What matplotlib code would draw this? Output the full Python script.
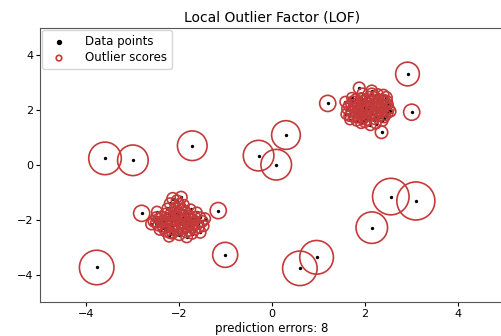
"""Local Outlier Factor scatter: data points with circles sized by outlier score."""
import matplotlib
matplotlib.use("Agg")
import matplotlib.pyplot as plt  # noqa: E402
import numpy as np  # noqa: E402

# isolated points
out_x = [2.92, 1.20, 3.01, 2.36, 0.30, -1.72, -3.60, -3.00, -0.29, 0.09,
         2.56, 3.10, 2.15, -2.81, -1.16, -1.01, -3.78, 0.96, 0.60, 2.46]
out_y = [3.31, 2.24, 1.92, 1.19, 1.09, 0.70, 0.24, 0.17, 0.34, 0.01,
         -1.15, -1.31, -2.28, -1.76, -1.66, -3.27, -3.73, -3.36, -3.76, 2.45]
out_lof = [1.94, 1.41, 1.41, 1.22, 2.40, 2.50, 2.82, 2.60, 2.60, 2.60,
           3.30, 3.50, 2.70, 1.41, 1.41, 2.05, 3.05, 2.95, 3.05, 1.20]

# upper-right cluster
c1_x = [2.05, 1.85, 2.25, 1.95, 2.15, 1.70, 2.40, 2.00, 1.80, 2.30,
        1.65, 2.10, 2.45, 1.90, 2.20, 1.75, 2.35, 2.05, 1.60, 2.50,
        1.95, 2.15, 1.88, 2.28, 2.42, 1.72, 2.00, 2.30, 1.82, 2.12,
        2.55, 1.58, 2.38, 1.68, 2.08, 1.98, 2.22, 1.90, 2.18, 1.78,
        2.48, 2.02, 2.26, 1.84, 2.12, 1.95, 2.33, 1.62, 2.05, 2.52,
        1.74, 2.40, 2.15, 1.92, 2.24, 1.88, 2.02, 2.18, 2.28, 1.92,
        1.70, 2.45, 2.35, 1.85, 2.08, 1.98, 2.22, 1.78, 2.12, 2.38,
        1.66, 2.50, 2.05, 1.93, 2.30, 1.80, 2.20, 1.96, 2.42, 2.10]
c1_y = [2.10, 2.00, 2.15, 2.35, 1.85, 1.95, 2.05, 1.70, 2.25, 2.40,
        2.15, 2.50, 1.80, 1.80, 1.65, 1.75, 2.25, 2.30, 1.85, 2.20,
        2.60, 2.70, 2.80, 2.58, 2.38, 2.45, 1.55, 1.75, 1.60, 1.45,
        1.95, 2.30, 1.60, 1.65, 1.95, 2.12, 2.02, 2.18, 2.28, 2.08,
        2.32, 2.42, 1.92, 1.90, 1.78, 1.98, 2.12, 2.05, 1.62, 2.05,
        2.32, 2.55, 2.60, 1.52, 1.50, 2.05, 1.85, 2.15, 2.30, 2.45,
        2.20, 2.15, 1.90, 1.70, 2.20, 2.00, 1.80, 1.88, 2.38, 2.38,
        1.78, 1.90, 1.75, 2.27, 2.05, 2.40, 2.48, 1.65, 1.72, 2.05]
c1_lof = [1.07, 1.08, 1.07, 1.10, 1.08, 1.11, 1.10, 1.09, 1.09, 1.12,
          1.13, 1.11, 1.12, 1.08, 1.10, 1.11, 1.10, 1.07, 1.14, 1.13,
          1.15, 1.17, 1.19, 1.14, 1.12, 1.13, 1.13, 1.10, 1.12, 1.15,
          1.16, 1.15, 1.14, 1.13, 1.05, 1.04, 1.06, 1.05, 1.08, 1.09,
          1.14, 1.10, 1.07, 1.08, 1.09, 0.95, 1.09, 1.15, 1.11, 1.14,
          1.13, 1.16, 1.15, 1.14, 1.13, 1.06, 1.07, 1.08, 1.10, 1.11,
          1.12, 1.12, 1.09, 1.10, 1.07, 1.05, 1.08, 1.09, 1.10, 1.12,
          1.13, 1.13, 1.09, 1.08, 1.08, 1.12, 1.12, 1.11, 1.12, 1.06]

# lower-left cluster
c2_x = [-2.05, -2.25, -1.85, -2.00, -2.15, -1.70, -2.40, -1.95, -2.30, -1.80,
        -2.50, -1.60, -2.10, -1.90, -2.05, -2.20, -1.75, -2.35, -2.00, -1.85,
        -2.15, -1.65, -2.45, -2.55, -1.55, -1.50, -2.28, -1.92, -2.08, -1.78,
        -2.18, -1.98, -2.38, -1.68, -2.12, -1.88, -2.26, -2.00, -2.14, -1.96,
        -2.30, -1.72, -2.05, -1.58, -2.48, -1.62, -2.20, -1.82, -1.45, -1.55,
        -2.60, -2.42, -1.84, -2.22, -1.48, -1.88, -2.02, -2.18, -2.28, -1.92,
        -1.70, -2.45, -2.35, -1.85, -2.08, -1.98, -2.22, -1.78, -2.12, -2.38,
        -1.66, -2.50, -2.05, -1.93, -2.30, -1.80, -2.20, -1.96, -1.72, -2.10]
c2_y = [-2.00, -1.90, -2.10, -1.70, -2.25, -1.95, -2.05, -2.35, -1.75, -1.80,
        -1.90, -2.15, -1.55, -1.45, -1.30, -1.40, -1.60, -2.30, -2.55, -2.45,
        -2.50, -2.35, -2.20, -2.05, -1.90, -2.05, -2.10, -1.92, -1.82, -2.22,
        -2.05, -2.15, -1.85, -2.05, -1.68, -1.65, -1.58, -1.42, -1.22, -1.18,
        -2.42, -2.50, -2.40, -2.28, -1.70, -1.72, -1.88, -2.02, -1.95, -2.45,
        -2.15, -2.35, -2.62, -2.60, -2.22, -2.00, -1.85, -2.15, -2.30, -2.20,
        -2.20, -1.95, -2.00, -1.70, -2.20, -2.05, -1.80, -1.88, -2.38, -2.12,
        -1.88, -2.10, -1.75, -2.30, -1.95, -2.40, -2.48, -1.60, -2.32, -2.05]
c2_lof = [1.04, 1.07, 1.06, 1.08, 1.09, 1.10, 1.12, 1.11, 1.10, 1.08,
          1.14, 1.13, 1.12, 1.14, 1.17, 1.16, 1.11, 1.13, 1.15, 1.14,
          1.14, 1.13, 1.15, 1.16, 1.14, 1.16, 1.08, 1.05, 1.06, 1.09,
          1.07, 1.05, 1.11, 1.10, 1.11, 1.12, 1.13, 1.15, 1.19, 1.20,
          1.14, 1.15, 1.12, 1.14, 1.15, 1.13, 1.08, 1.06, 1.17, 1.18,
          1.17, 1.16, 1.17, 1.16, 1.16, 1.06, 1.07, 1.08, 1.11, 1.09,
          1.12, 1.13, 1.10, 1.11, 1.08, 1.06, 1.09, 1.10, 1.12, 1.11,
          1.13, 1.15, 1.10, 1.11, 1.09, 1.13, 1.14, 1.13, 1.12, 1.07]

n_errors = 8

X = np.column_stack([c1_x + c2_x + out_x, c1_y + c2_y + out_y])
lof = np.array(c1_lof + c2_lof + out_lof)
radius = (lof - lof.min()) / (lof.max() - lof.min())

fig = plt.figure(figsize=(5.01, 3.36), dpi=100)
ax = fig.add_axes([0.08, 0.1, 0.926, 0.818])
ax.scatter(X[:, 0], X[:, 1], color="k", s=2.0, label="Data points")
ax.scatter(X[:, 0], X[:, 1], s=750 * radius, edgecolors="#c43a3a",
           facecolors="none", linewidths=1.2, label="Outlier scores")
ax.set_xlim(-5, 5)
ax.set_ylim(-5, 5)
ax.set_title("Local Outlier Factor (LOF)", fontsize=10, pad=4)
ax.set_xlabel(f"prediction errors: {n_errors}", fontsize=8.5, labelpad=2)
ax.tick_params(labelsize=8, length=3, width=0.8, pad=2)
for sp in ax.spines.values():
    sp.set_color("#555555")
leg = ax.legend(loc="upper left", fontsize=8.5, labelspacing=0.3,
                borderaxespad=0.2, handletextpad=1.2)
leg.legend_handles[0]._sizes = [8]
leg.legend_handles[1]._sizes = [16]
fig.savefig("out.png", dpi=100)
